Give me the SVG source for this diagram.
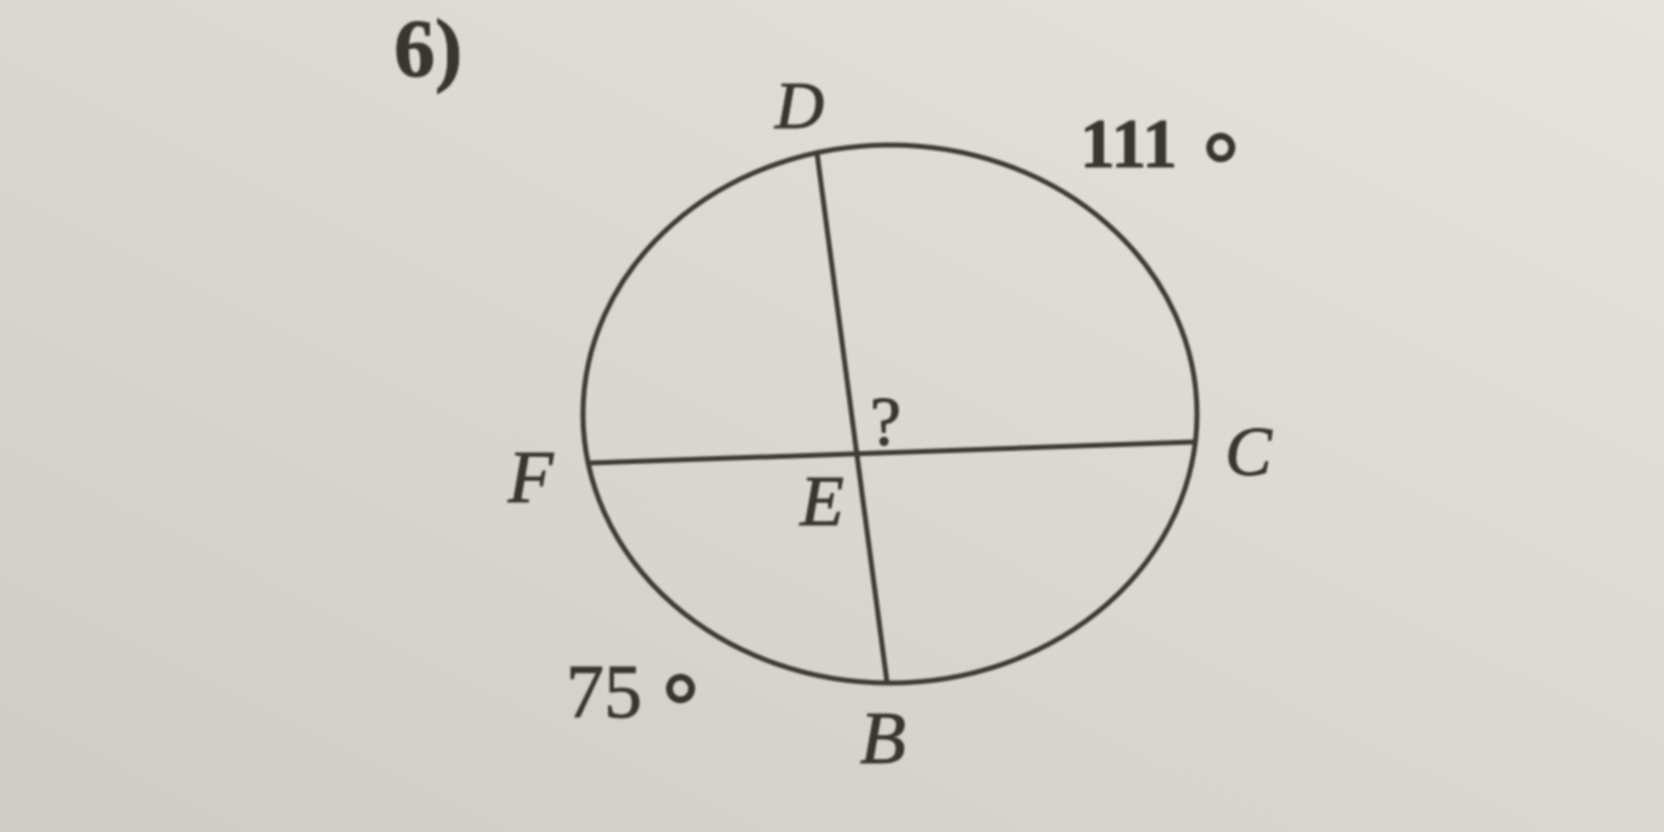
<svg xmlns="http://www.w3.org/2000/svg" width="1664" height="832" viewBox="0 0 1664 832">
  <defs>
    <linearGradient id="paper" x1="1" y1="0" x2="0" y2="1">
      <stop offset="0" stop-color="#e6e3de"/>
      <stop offset="0.5" stop-color="#dbd8d2"/>
      <stop offset="1" stop-color="#cfccc6"/>
    </linearGradient>
    <filter id="soft" x="-5%" y="-5%" width="110%" height="110%">
      <feGaussianBlur stdDeviation="1.2"/>
    </filter>
  </defs>
  <style>
    .ink { stroke: #3f3a35; stroke-width: 5; fill: none; stroke-linecap: round; }
    .lbl { font-family: "Liberation Serif", "Times New Roman", serif; fill: #3a3530; stroke: #3a3530; stroke-width: 1; }
    .it { font-style: italic; }
    .num { font-weight: bold; }
    .deg { stroke-width: 2.5; font-weight: normal; }
  </style>
  <rect width="1664" height="832" fill="url(#paper)"/>
  <g filter="url(#soft)">
    <g id="circle">
      <ellipse class="ink" cx="890" cy="414" rx="307" ry="269"/>
    </g>
    <g id="connectors">
      <line class="ink" x1="817" y1="153" x2="887" y2="682"/>
      <line class="ink" x1="590" y1="463" x2="1193" y2="442"/>
    </g>
    <g id="labels">
      <text class="lbl num" x="394" y="76" font-size="82">6)</text>
      <text id="D" class="lbl it" x="775" y="128" font-size="68">D</text>
      <text id="arc111" class="lbl num" x="1080" y="167" font-size="70">111<tspan class="deg" font-size="88" dx="26" dy="26">°</tspan></text>
      <text id="F" class="lbl it" x="508" y="502" font-size="74">F</text>
      <text id="E" class="lbl it" x="800" y="525" font-size="72">E</text>
      <text id="q" class="lbl" x="870" y="445" font-size="70">?</text>
      <text id="C" class="lbl it" x="1225" y="475" font-size="70">C</text>
      <text id="B" class="lbl it" x="860" y="763" font-size="75">B</text>
      <text id="arc75" class="lbl" x="566" y="717" font-size="76">75<tspan class="deg" font-size="88" dx="21" dy="17">°</tspan></text>
    </g>
  </g>
</svg>
